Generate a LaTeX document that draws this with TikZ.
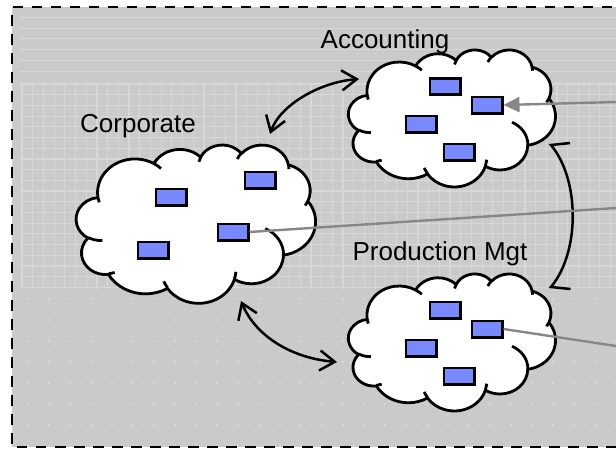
\documentclass[tikz,border=0pt]{standalone}
\usepackage{fontspec}
\setmainfont{Liberation Sans}
\usetikzlibrary{arrows.meta}
\definecolor{bgGray}{RGB}{202,202,202}
\definecolor{bgLine}{RGB}{215,215,215}
\definecolor{boxBlue}{RGB}{120,137,255}
\definecolor{linkGray}{RGB}{135,135,135}
\newcommand{\drawpptcloud}{%
  \draw[cloudline, fill=white] (39.00,143.70)
    arc[start angle=-187.75, end angle=-59.64, x radius=67.53, y radius=91.90]
    arc[start angle=-152.03, end angle=-45.46, x radius=53.33, y radius=72.67]
    arc[start angle=-153.50, end angle=-37.33, x radius=43.65, y radius=59.45]
    arc[start angle=-139.71, end angle=-10.21, x radius=48.57, y radius=65.95]
    arc[start angle=-74.77, end angle=23.21, x radius=53.33, y radius=72.73]
    arc[start angle=-37.50, end angle=81.86, x radius=67.75, y radius=92.20]
    arc[start angle=0.46, end angle=121.98, x radius=57.85, y radius=78.67]
    arc[start angle=16.84, end angle=146.24, x radius=67.52, y radius=92.15]
    arc[start angle=58.99, end angle=150.20, x radius=77.20, y radius=105.43]
    arc[start angle=83.31, end angle=223.11, x radius=43.60, y radius=59.18]
    arc[start angle=120.35, end angle=264.11, x radius=43.45, y radius=59.45]
    -- cycle;
  \draw[cloudline]
    (46.93,261.77) arc[start angle=85.54, end angle=120.35, x radius=43.45, y radius=59.45]
    (69.28,348.99) arc[start angle=68.23, end angle=83.31, x radius=43.60, y radius=59.18]
    (164.78,390.90) arc[start angle=146.24, end angle=158.48, x radius=67.52, y radius=92.15]
    (288.27,347.51) arc[start angle=4.74, end angle=16.84, x radius=67.52, y radius=92.15]
    (341.29,229.54) arc[start angle=-64.6, end angle=0.46, x radius=57.85, y radius=78.67]
    (418.17,154.59) arc[start angle=23.21, end angle=34.0, x radius=53.33, y radius=72.73]
    (383.24,54.26) arc[start angle=-10.21, end angle=0.82, x radius=48.57, y radius=65.95]
    (290.78,39.52) arc[start angle=-156.30, end angle=-139.71, x radius=48.57, y radius=65.95]
    (221.41,47.20) arc[start angle=-167.72, end angle=-153.50, x radius=43.65, y radius=59.45]
    (140.00,51.92) arc[start angle=-59.64, end angle=-45.74, x radius=67.53, y radius=91.90]
    (41.27,157.89) arc[start angle=163.19, end angle=172.25, x radius=67.53, y radius=91.90];
}
\begin{document}
\begin{tikzpicture}[x=1pt,y=-1pt,
  cloudline/.style={draw=black, line width=2.8pt, line join=round},
  app/.style={draw=black, line width=2.6pt, fill=boxBlue, minimum width=30.4pt, minimum height=16.4pt, inner sep=0pt},
  link/.style={black, line width=2.5pt, {Straight Barb[length=15pt,width=20pt]}-{Straight Barb[length=15pt,width=20pt]}},
  feed/.style={draw=linkGray, line width=2.4pt},
  lbl/.style={font=\fontsize{26}{30}\selectfont, inner sep=0pt, anchor=base}]
\useasboundingbox (0,0) rectangle (616,451);
% background
\fill[white] (0,0) rectangle (616,451);
\fill[bgGray] (12,7) rectangle (620,447);
\foreach \y in {17.5,28.2,...,80} \draw[bgLine, line width=1pt] (20,\y) -- (616,\y);
\foreach \y in {84,94.7,...,289} \draw[bgLine, line width=1.2pt] (20,\y) -- (616,\y);
\foreach \x in {22,32.7,...,616} \draw[bgLine, line width=1.2pt] (\x,82) -- (\x,289);
\foreach \x in {27,37.5,...,616} \foreach \y in {298,308.5,...,446} \fill[bgLine] (\x,\y) rectangle ++(1.5,1.5);
\draw[black, line width=2.4pt, dash pattern=on 10.5pt off 8.5pt, dash phase=-8pt] (620,7) -- (12,7) -- (12,447) -- (620,447);
% clouds (PowerPoint-style outline, drawn in a 432 x 432 box)
\coordinate (corp) at (195.9,224);
\coordinate (acc) at (452,118);
\coordinate (prod) at (452,342);
\begin{scope}[shift={(76.3,144.5)}, xscale=0.5537, yscale=0.3664]
  \drawpptcloud
\end{scope}
\begin{scope}[shift={(348.5,49.5)}, xscale=0.4792, yscale=0.3171]
  \drawpptcloud
\end{scope}
\begin{scope}[shift={(348.5,273.5)}, xscale=0.4792, yscale=0.3171]
  \drawpptcloud
\end{scope}
% application boxes
\node[app] (corpA) at (260,180) {};
\node[app] (corpB) at (171,197) {};
\node[app] (corpC) at (233,232) {};
\node[app] (corpD) at (153,250) {};
\node[app] (accA) at (445,86.5) {};
\node[app] (accB) at (487,105) {};
\node[app] (accC) at (421,124) {};
\node[app] (accD) at (459,152) {};
\node[app] (prodA) at (445,310) {};
\node[app] (prodB) at (487,329) {};
\node[app] (prodC) at (421,348) {};
\node[app] (prodD) at (459,376) {};
% labels
\node[lbl] (corpL) at (138,132) {Corporate};
\node[lbl] (accL) at (385,48) {Accounting};
\node[lbl] (prodL) at (440,260) {Production Mgt};
% black connectors
\coordinate (accTip) at (359,79);
\coordinate (corpTipA) at (270,134);
\coordinate (corpTipP) at (241,301);
\coordinate (prodTip) at (337,362);
\coordinate (accEnd) at (551,145);
\coordinate (accBarb) at (570,143);
\coordinate (prodEnd) at (551,287);
\coordinate (prodBarb) at (570.5,289);
\draw[link] (accTip) .. controls (320,82) and (280,105) .. (corpTipA);
\draw[link] (corpTipP) .. controls (255,335) and (290,358) .. (prodTip);
\draw[black, line width=2.5pt] (accBarb) -- (accEnd) .. controls (580,180) and (580,252) .. (prodEnd) -- (prodBarb);
% gray feeds
\coordinate (inA) at (616,102);
\coordinate (outC) at (616,208);
\coordinate (outP) at (616,346);
\draw[feed, -{Triangle[length=16pt,width=15pt]}] (inA) -- (accB.east);
\draw[feed] (corpC.east) -- (outC);
\draw[feed] (prodB.east) -- (outP);
\end{tikzpicture}
\end{document}
